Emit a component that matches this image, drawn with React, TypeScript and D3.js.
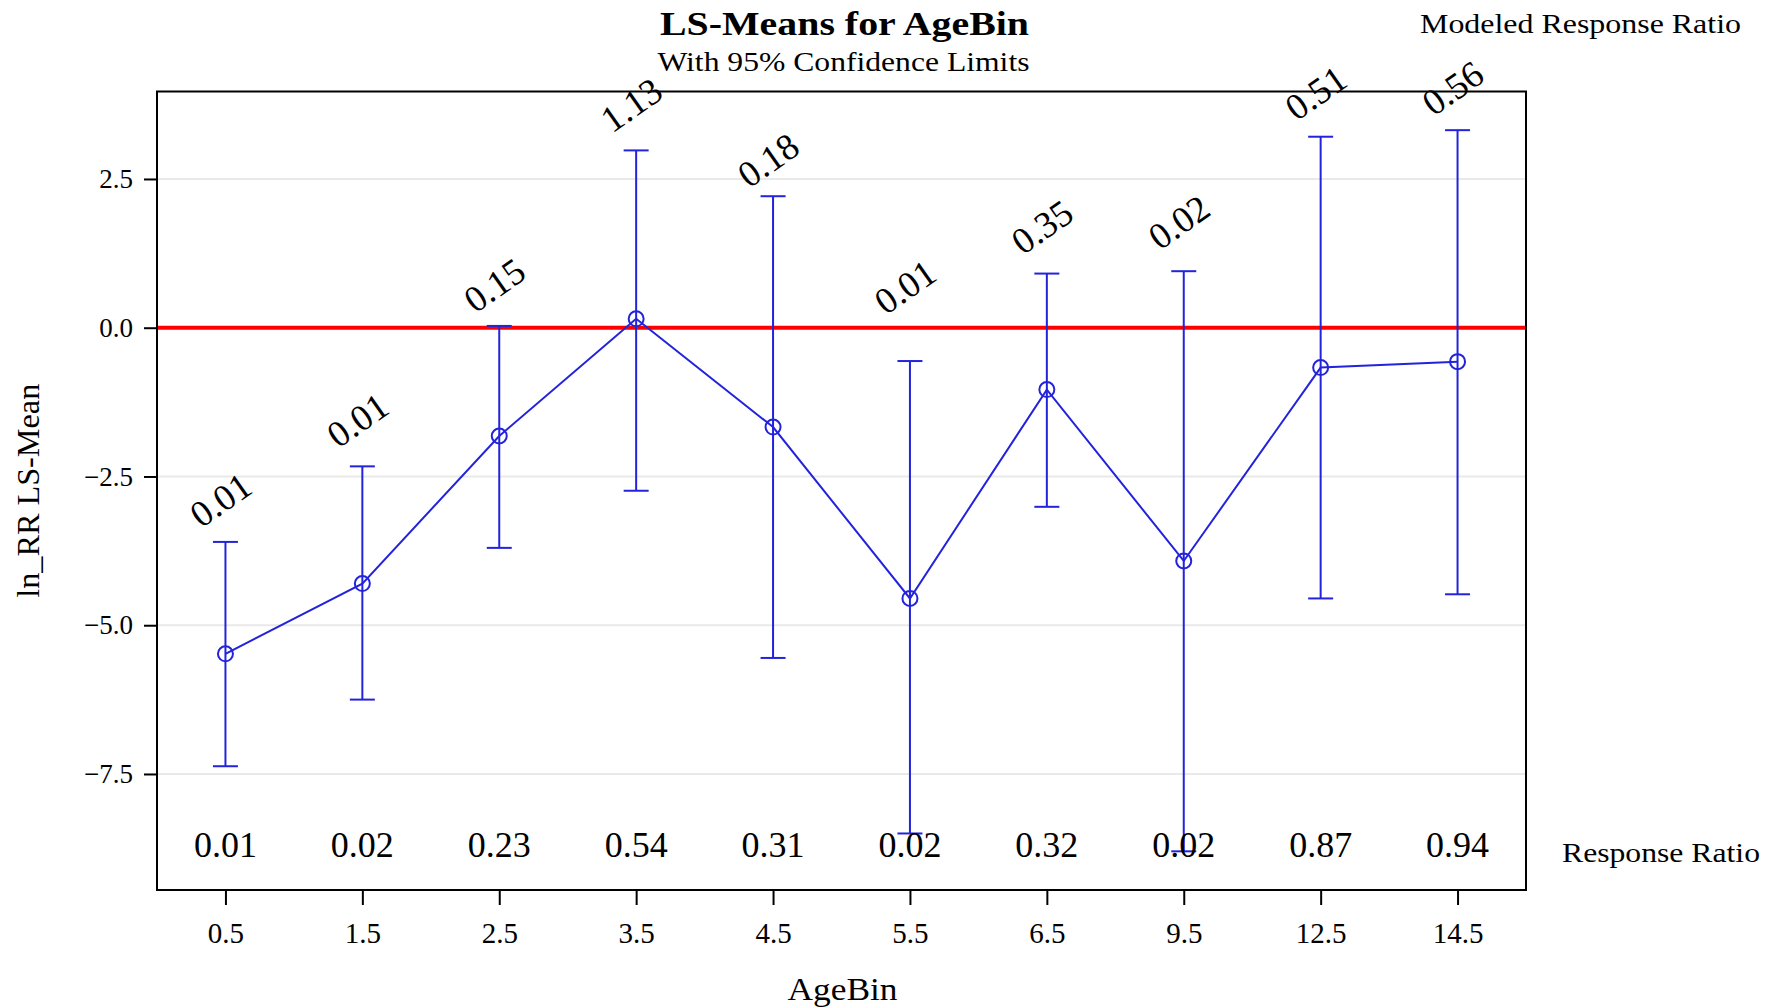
import React, { useEffect, useRef } from "react";
import * as d3 from "d3";

// AgeBin categories and LS-means with 95% confidence limits
const ageBins = ["0.5", "1.5", "2.5", "3.5", "4.5", "5.5", "6.5", "9.5", "12.5", "14.5"];
const lsMean = [-5.48, -4.3, -1.82, 0.15, -1.67, -4.55, -1.04, -3.92, -0.67, -0.57];
const lowerCL = [-7.37, -6.25, -3.7, -2.74, -5.55, -8.5, -3.01, -8.8, -4.55, -4.48];
const upperCL = [-3.6, -2.33, 0.03, 2.98, 2.21, -0.56, 0.91, 0.95, 3.21, 3.32];

// annotations: modeled response ratio (rotated, above the bars) and observed ratio (bottom row)
const modeledRR = ["0.01", "0.01", "0.15", "1.13", "0.18", "0.01", "0.35", "0.02", "0.51", "0.56"];
const modeledLevel = [-2.89, -1.55, 0.72, 3.75, 2.82, 0.69, 1.7, 1.78, 3.95, 4.03];
const responseRatio = ["0.01", "0.02", "0.23", "0.54", "0.31", "0.02", "0.32", "0.02", "0.87", "0.94"];

const yTicks = [2.5, 0, -2.5, -5, -7.5];
const yDomain = [-9.45, 3.97];

const W = 1783;
const H = 1008;
const FONT = "Liberation Serif, Times New Roman, serif";
const BLUE = "#2323dc";

function App() {
  const svgRef = useRef<SVGSVGElement>(null);

  useEffect(() => {
    const svg = d3.select(svgRef.current);
    svg.selectAll("*").remove();

    const left = 157, right = 1526, top = 91.5, bottom = 890;

    const x = d3.scalePoint<string>().domain(ageBins).range([left, right]).padding(0.5);
    const y = d3.scaleLinear().domain(yDomain).range([bottom, top]);

    const data = ageBins.map((b, i) => ({
      bin: b,
      mean: lsMean[i],
      lo: lowerCL[i],
      hi: upperCL[i],
      mrr: modeledRR[i],
      lvl: modeledLevel[i],
      rr: responseRatio[i],
    }));

    // grid lines
    svg.append("g")
      .selectAll("line")
      .data(yTicks)
      .enter()
      .append("line")
      .attr("x1", left)
      .attr("x2", right)
      .attr("y1", (d) => y(d))
      .attr("y2", (d) => y(d))
      .attr("stroke", "#e9e9e9")
      .attr("stroke-width", 2);

    // y axis
    const yAxis = svg.append("g")
      .attr("transform", `translate(${left},0)`)
      .call(d3.axisLeft(y).tickValues(yTicks).tickFormat(d3.format(".1f")).tickSize(13).tickPadding(11));
    yAxis.select(".domain").remove();
    yAxis.selectAll("line").attr("stroke", "#000").attr("stroke-width", 2);
    yAxis.selectAll("text")
      .attr("font-family", FONT)
      .attr("font-size", 27)
      .attr("fill", "#000");

    // x axis
    const xAxis = svg.append("g")
      .attr("transform", `translate(0,${bottom})`)
      .call(d3.axisBottom(x).tickSize(15).tickPadding(17));
    xAxis.select(".domain").remove();
    xAxis.selectAll("line").attr("stroke", "#000").attr("stroke-width", 2);
    xAxis.selectAll("text")
      .attr("font-family", FONT)
      .attr("font-size", 29)
      .attr("fill", "#000");

    // reference line at zero
    svg.append("line")
      .attr("x1", left)
      .attr("x2", right)
      .attr("y1", y(0))
      .attr("y2", y(0))
      .attr("stroke", "#ff0000")
      .attr("stroke-width", 4);

    // error bars
    const bars = svg.append("g").attr("stroke", BLUE).attr("stroke-width", 2).attr("fill", "none");
    data.forEach((d) => {
      const cx = x(d.bin)!;
      bars.append("line").attr("x1", cx).attr("x2", cx).attr("y1", y(d.lo)).attr("y2", y(d.hi));
      bars.append("line").attr("x1", cx - 12.5).attr("x2", cx + 12.5).attr("y1", y(d.hi)).attr("y2", y(d.hi));
      bars.append("line").attr("x1", cx - 12.5).attr("x2", cx + 12.5).attr("y1", y(d.lo)).attr("y2", y(d.lo));
    });

    // mean line + markers
    const line = d3.line<typeof data[0]>()
      .x((d) => x(d.bin)!)
      .y((d) => y(d.mean));
    svg.append("path")
      .datum(data)
      .attr("d", line)
      .attr("fill", "none")
      .attr("stroke", BLUE)
      .attr("stroke-width", 2);
    svg.append("g")
      .selectAll("circle")
      .data(data)
      .enter()
      .append("circle")
      .attr("cx", (d) => x(d.bin)!)
      .attr("cy", (d) => y(d.mean))
      .attr("r", 7.5)
      .attr("fill", "none")
      .attr("stroke", BLUE)
      .attr("stroke-width", 2);

    // frame
    svg.append("rect")
      .attr("x", left)
      .attr("y", top)
      .attr("width", right - left)
      .attr("height", bottom - top)
      .attr("fill", "none")
      .attr("stroke", "#000")
      .attr("stroke-width", 2);

    // rotated modeled response ratios
    svg.append("g")
      .selectAll("text")
      .data(data)
      .enter()
      .append("text")
      .attr("transform", (d) => `translate(${x(d.bin)! - 5},${y(d.lvl)}) rotate(-35)`)
      .attr("text-anchor", "middle")
      .attr("dy", "0.35em")
      .attr("font-family", FONT)
      .attr("font-size", 37)
      .text((d) => d.mrr);

    // response ratios along the bottom
    svg.append("g")
      .selectAll("text")
      .data(data)
      .enter()
      .append("text")
      .attr("x", (d) => x(d.bin)!)
      .attr("y", 857)
      .attr("text-anchor", "middle")
      .attr("font-family", FONT)
      .attr("font-size", 36)
      .text((d) => d.rr);

    // titles and labels
    const label = (txt: string, xx: number, yy: number, size: number, anchor: string, len?: number, bold?: boolean) => {
      const t = svg.append("text")
        .attr("x", xx)
        .attr("y", yy)
        .attr("text-anchor", anchor)
        .attr("font-family", FONT)
        .attr("font-size", size)
        .attr("font-weight", bold ? "bold" : "normal")
        .text(txt);
      if (len) t.attr("textLength", len).attr("lengthAdjust", "spacingAndGlyphs");
      return t;
    };
    label("LS-Means for AgeBin", (left + right) / 2 + 3, 35, 34, "middle", 369, true);
    label("With 95% Confidence Limits", (left + right) / 2 + 2, 70.5, 28, "middle", 372);
    label("Modeled Response Ratio", 1420, 33, 28, "start", 321);
    label("Response Ratio", 1562, 862, 27, "start", 198);
    label("AgeBin", (left + right) / 2 + 1, 1000, 32, "middle", 110);

    svg.append("text")
      .attr("transform", `translate(39,${(top + bottom) / 2}) rotate(-90)`)
      .attr("text-anchor", "middle")
      .attr("font-family", FONT)
      .attr("font-size", 32)
      .attr("textLength", 214)
      .attr("lengthAdjust", "spacingAndGlyphs")
      .text("ln_RR LS-Mean");
  }, []);

  return (
    <svg
      ref={svgRef}
      width={W}
      height={H}
      style={{ position: "absolute", left: 0, top: 0, background: "#fff" }}
    />
  );
}

export default App;
